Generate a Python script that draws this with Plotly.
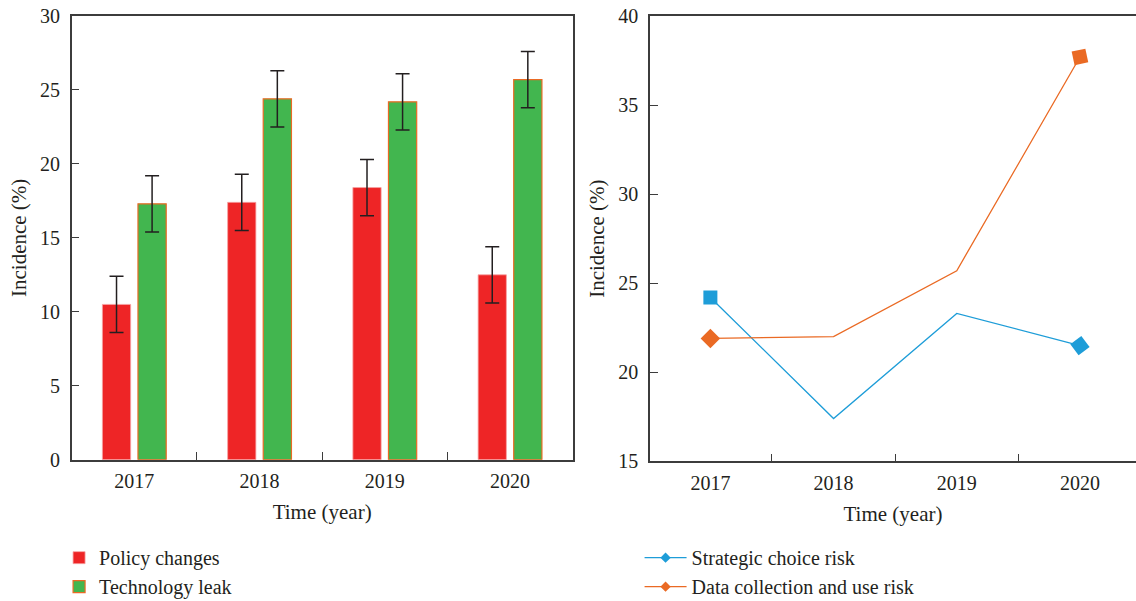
import plotly.graph_objects as go

# Survey years shared by both panels
years = ["2017", "2018", "2019", "2020"]
year_pos = [0, 1, 2, 3]

# Left panel: incidence of risk events (%) with error margins
policy_changes = [10.5, 17.4, 18.4, 12.5]
policy_err = [1.9, 1.9, 1.9, 1.9]
technology_leak = [17.3, 24.4, 24.2, 25.7]
technology_err = [1.9, 1.9, 1.9, 1.9]

# Right panel: incidence of decision-related risks (%)
strategic_choice = [24.2, 17.4, 23.3, 21.5]
data_collection = [21.9, 22.0, 25.7, 37.7]

FONT = "Liberation Serif, Times New Roman, serif"
INK = "#231f20"
AXIS = "#3c3c3c"
RED = "#ee2526"
GREEN = "#42b64f"
ORANGE = "#ea6a24"
BLUE = "#1e9dd8"

fig = go.Figure()

fig.add_trace(go.Bar(
    x=year_pos, y=policy_changes, name="Policy changes",
    marker=dict(color=RED, line=dict(color="#f6a3a3", width=0.8)),
    error_y=dict(type="data", array=policy_err, color=INK, thickness=1.5, width=7),
    xaxis="x", yaxis="y", legend="legend",
))
fig.add_trace(go.Bar(
    x=year_pos, y=technology_leak, name="Technology leak",
    marker=dict(color=GREEN, line=dict(color=ORANGE, width=1.2)),
    error_y=dict(type="data", array=technology_err, color=INK, thickness=1.5, width=7),
    xaxis="x", yaxis="y", legend="legend",
))

# Lines carry markers only at their end points
fig.add_trace(go.Scatter(
    x=year_pos, y=strategic_choice, mode="lines+markers", name="Strategic choice risk",
    line=dict(color=BLUE, width=1.3),
    marker=dict(color=BLUE, opacity=1, line=dict(width=0),
                symbol=["square", "circle", "circle", "diamond"],
                size=[14, 0, 0, 15], angle=[0, 0, 0, 8]),
    xaxis="x2", yaxis="y2", showlegend=False,
))
fig.add_trace(go.Scatter(
    x=year_pos, y=data_collection, mode="lines+markers", name="Data collection and use risk",
    line=dict(color=ORANGE, width=1.3),
    marker=dict(color=ORANGE, opacity=1, line=dict(width=0),
                symbol=["diamond", "circle", "circle", "square"],
                size=[15, 0, 0, 14], angle=[0, 0, 0, -12]),
    xaxis="x2", yaxis="y2", showlegend=False,
))

# Legend entries for the line panel
for name, color in [("Strategic choice risk", BLUE), ("Data collection and use risk", ORANGE)]:
    fig.add_trace(go.Scatter(
        x=[None], y=[None], mode="lines+markers", name=name,
        line=dict(color=color, width=1.3),
        marker=dict(color=color, symbol="diamond", size=8),
        xaxis="x2", yaxis="y2", legend="legend2",
    ))

tick_font = dict(family=FONT, size=20, color=INK)
title_font = dict(family=FONT, size=21, color=INK)

x_common = dict(
    tickmode="array", tickvals=year_pos, ticktext=years, ticks="",
    tickfont=tick_font, ticklabelstandoff=3,
    showline=True, linecolor=AXIS, linewidth=1.5, mirror=True,
    showgrid=False, zeroline=False,
    minor=dict(tickmode="array", tickvals=[0.5, 1.5, 2.5], ticks="inside",
               ticklen=8, tickwidth=1.3, tickcolor=AXIS, showgrid=False),
    title=dict(text="Time (year)", font=title_font, standoff=13),
    automargin=False,
)
y_common = dict(
    ticks="inside", ticklen=8, tickwidth=1.3, tickcolor=AXIS,
    tickfont=tick_font, ticklabelstandoff=6,
    showline=True, linecolor=AXIS, linewidth=1.5,
    showgrid=False, zeroline=False,
    title=dict(text="Incidence (%)", font=title_font, standoff=8),
    automargin=False,
)

fig.update_layout(
    width=1136, height=601,
    margin=dict(l=0, r=0, t=0, b=0, autoexpand=False),
    paper_bgcolor="white", plot_bgcolor="white",
    font=dict(family=FONT, color=INK),
    barmode="group", bargap=0.432, bargroupgap=0.206,
    xaxis=dict(domain=[0.0631, 0.5041], range=[-0.5, 3.5], **x_common),
    yaxis=dict(domain=[0.2351, 0.9734], range=[0, 30], tickvals=[0, 5, 10, 15, 20, 25, 30],
               mirror=True, **y_common),
    xaxis2=dict(domain=[0.5722, 1.0], range=[-0.49, 3.455], anchor="y2", **x_common),
    yaxis2=dict(domain=[0.2324, 0.9734], range=[15, 40], tickvals=[15, 20, 25, 30, 35, 40],
                anchor="x2", mirror=False, **y_common),
    legend=dict(x=0.052, y=0.048, xanchor="left", yanchor="middle",
                font=dict(family=FONT, size=20, color=INK),
                bgcolor="rgba(0,0,0,0)", tracegroupgap=0, itemwidth=30),
    legend2=dict(x=0.563, y=0.048, xanchor="left", yanchor="middle",
                 font=dict(family=FONT, size=20, color=INK),
                 bgcolor="rgba(0,0,0,0)", tracegroupgap=0, itemwidth=42),
)

fig.write_html("out.html")
